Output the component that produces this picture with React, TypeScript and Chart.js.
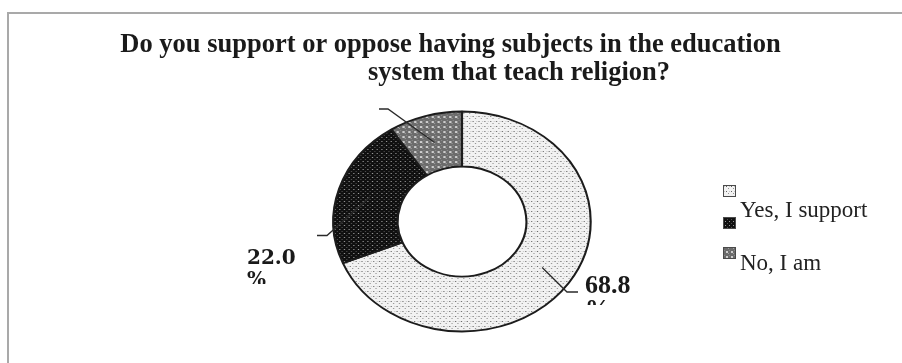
import React, { useEffect, useRef } from "react";
import { Chart, ArcElement, DoughnutController } from "chart.js";

Chart.register(ArcElement, DoughnutController);

// Survey answers and their shares (%)
const categories = ["Yes, I support", "", "No, I am"];
const shares = [68.8, 22.0, 9.2];

const CANVAS_W = 902;
const CANVAS_H = 363;
const RING_RADIUS = 110;
const STRETCH_X = 1.17; // ring is drawn wider than tall

const TITLE_LINES = [
  "Do you support or oppose having subjects in the education",
  "system that teach religion?",
];

// Callout layout per slice: leader bend / end points and where the value text sits
type Callout = {
  bend: [number, number];
  end: [number, number];
  text: null | { x: number; y: number; font: string; lineGap: number; clipBottom: number };
};
const callouts: Callout[] = [
  {
    bend: [567, 292],
    end: [578, 292],
    text: { x: 585, y: 293, font: "bold 26px 'Liberation Serif'", lineGap: 24, clipBottom: 305 },
  },
  {
    bend: [327, 235.5],
    end: [317, 235.5],
    text: { x: 247, y: 263.5, font: "bold 20px 'DejaVu Serif'", lineGap: 22, clipBottom: 284 },
  },
  { bend: [388, 109], end: [379, 109], text: null },
];

// Legend layout
const LEGEND_X = 723;
const swatchTops = [185, 217, 247];
const legendTextBaselines = [216.5, 0, 270];

type Mark = [number, number, number, number, string];
function makePattern(ctx: CanvasRenderingContext2D, size: number, bg: string, marks: Mark[]) {
  const tile = document.createElement("canvas");
  tile.width = size;
  tile.height = size;
  const g = tile.getContext("2d")!;
  g.fillStyle = bg;
  g.fillRect(0, 0, size, size);
  for (const [x, y, w, h, c] of marks) {
    g.fillStyle = c;
    g.fillRect(x, y, w, h);
  }
  return ctx.createPattern(tile, "repeat")!;
}

export default function App() {
  const ref = useRef<HTMLCanvasElement | null>(null);

  useEffect(() => {
    const canvas = ref.current!;
    const ctx = canvas.getContext("2d")!;

    const fills = [
      makePattern(ctx, 5, "#f2f2f2", [
        [1, 1, 1, 1, "#646464"],
        [3, 3, 1, 1, "#959595"],
        [4, 1, 1, 1, "#c8c8c8"],
      ]),
      makePattern(ctx, 4, "#101010", [
        [1, 1, 1, 1, "#9a9a9a"],
        [3, 3, 1, 1, "#4c4c4c"],
      ]),
      makePattern(ctx, 5, "#6c6c6c", [
        [1, 1, 2, 2, "#cfcfcf"],
        [3, 3, 1, 1, "#a0a0a0"],
        [4, 0, 1, 1, "#8a8a8a"],
      ]),
    ];

    const framePlugin = {
      id: "frame",
      beforeDraw(chart: Chart) {
        const c = chart.ctx;
        c.save();
        c.fillStyle = "#ffffff";
        c.fillRect(0, 0, chart.width, chart.height);
        c.strokeStyle = "#a9a9a9";
        c.lineWidth = 2;
        c.strokeRect(8, 13, 1000, 1000);
        c.restore();
      },
    };

    const stretchPlugin = {
      id: "stretch",
      beforeDatasetsDraw(chart: Chart) {
        const arc = chart.getDatasetMeta(0).data[0] as any;
        const c = chart.ctx;
        c.save();
        c.translate(arc.x, arc.y);
        c.scale(STRETCH_X, 1);
        c.translate(-arc.x, -arc.y);
      },
      afterDatasetsDraw(chart: Chart) {
        chart.ctx.restore();
      },
    };

    const annotationPlugin = {
      id: "annotations",
      afterDraw(chart: Chart) {
        const c = chart.ctx;
        c.save();

        // title
        c.fillStyle = "#1a1a1a";
        c.font = "bold 26.5px 'Liberation Serif'";
        c.textBaseline = "alphabetic";
        c.textAlign = "center";
        c.fillText(TITLE_LINES[0], 450.5, 52);
        c.textAlign = "left";
        c.fillText(TITLE_LINES[1], 368, 80);

        // leader lines and value labels
        const meta = chart.getDatasetMeta(0);
        meta.data.forEach((el: any, i: number) => {
          const p = el.getProps(["x", "y", "startAngle", "endAngle", "innerRadius", "outerRadius"], true);
          const mid = (p.startAngle + p.endAngle) / 2;
          const r = (p.innerRadius + p.outerRadius) / 2;
          const sx = p.x + Math.cos(mid) * r * STRETCH_X;
          const sy = p.y + Math.sin(mid) * r;
          const co = callouts[i];
          c.strokeStyle = "#2a2a2a";
          c.lineWidth = 1.3;
          c.beginPath();
          c.moveTo(sx, sy);
          c.lineTo(co.bend[0], co.bend[1]);
          c.lineTo(co.end[0], co.end[1]);
          c.stroke();

          if (co.text) {
            const t = co.text;
            c.save();
            c.beginPath();
            c.rect(t.x - 4, 0, 120, t.clipBottom);
            c.clip();
            c.fillStyle = "#1a1a1a";
            c.font = t.font;
            c.textAlign = "left";
            c.fillText(shares[i].toFixed(1), t.x, t.y);
            c.fillText("%", t.x, t.y + t.lineGap);
            c.restore();
          }
        });

        // legend
        categories.forEach((label, i) => {
          c.fillStyle = fills[i];
          c.fillRect(LEGEND_X, swatchTops[i], 12, 11);
          c.strokeStyle = "#4a4a4a";
          c.lineWidth = 1;
          c.strokeRect(LEGEND_X + 0.5, swatchTops[i] + 0.5, 12, 11);
          if (label) {
            c.fillStyle = "#222222";
            c.font = "23px 'Liberation Serif'";
            c.textAlign = "left";
            c.fillText(label, 740, legendTextBaselines[i]);
          }
        });

        c.restore();
      },
    };

    const chart = new Chart(ctx, {
      type: "doughnut",
      data: {
        labels: categories,
        datasets: [
          {
            data: shares,
            backgroundColor: fills,
            borderColor: "#1c1c1c",
            borderWidth: 1.8,
            hoverOffset: 0,
          },
        ],
      },
      options: {
        responsive: false,
        animation: false,
        events: [],
        radius: RING_RADIUS,
        cutout: "50%",
        rotation: 0,
        circumference: 360,
        layout: { padding: { left: 322, right: 300, top: 100, bottom: 20 } },
        plugins: {
          legend: { display: false },
          tooltip: { enabled: false },
          title: { display: false },
        },
      } as any,
      plugins: [framePlugin, stretchPlugin, annotationPlugin],
    });

    return () => chart.destroy();
  }, []);

  return (
    <div style={{ position: "fixed", left: 0, top: 0, width: CANVAS_W, height: CANVAS_H, background: "#fff" }}>
      <canvas ref={ref} width={CANVAS_W} height={CANVAS_H} style={{ display: "block" }} />
    </div>
  );
}
